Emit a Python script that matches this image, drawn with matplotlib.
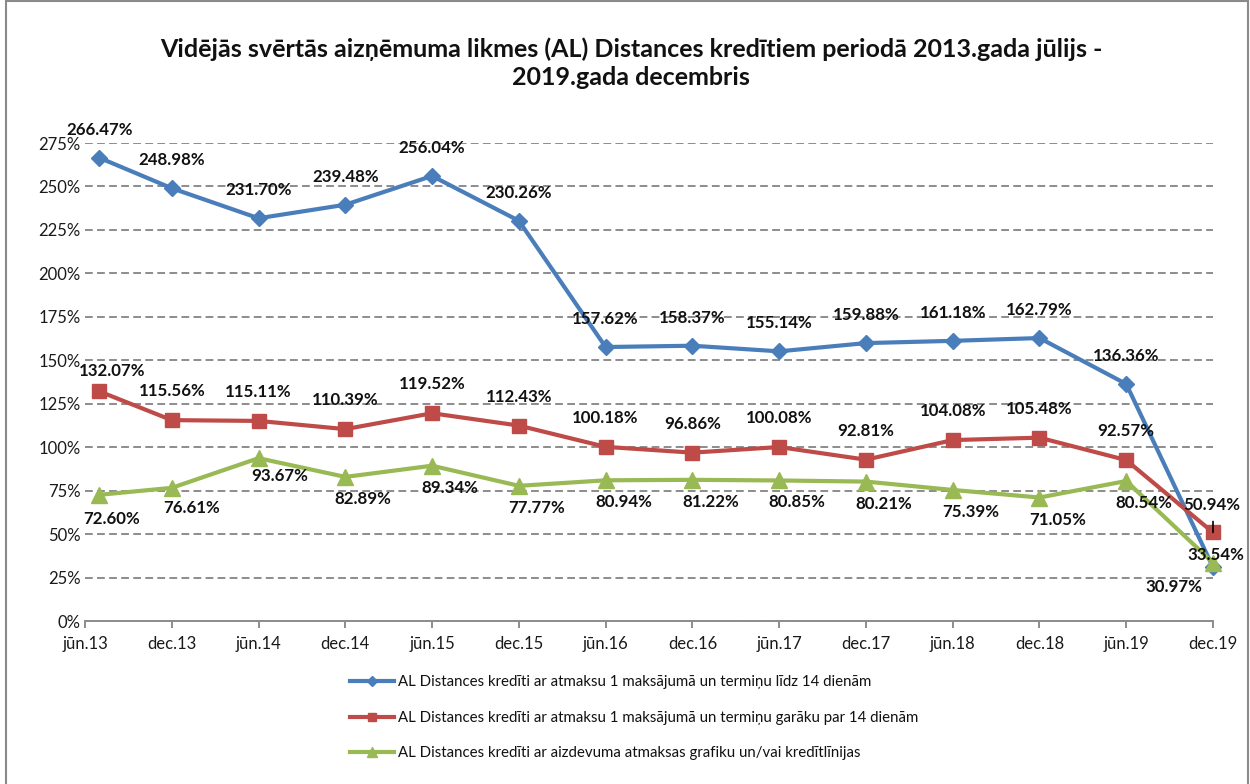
import matplotlib
matplotlib.use('Agg')
import matplotlib.pyplot as plt
from matplotlib.patches import Rectangle
import numpy as np

# ---- data ----
periods = ['2013-07', '2013-12', '2014-06', '2014-12', '2015-06', '2015-12', '2016-06',
           '2016-12', '2017-06', '2017-12', '2018-06', '2018-12', '2019-06', '2019-12']
tick_labels = ['jūn.13', 'dec.13', 'jūn.14', 'dec.14', 'jūn.15', 'dec.15', 'jūn.16',
               'dec.16', 'jūn.17', 'dec.17', 'jūn.18', 'dec.18', 'jūn.19', 'dec.19']
short_term = [266.47, 248.98, 231.70, 239.48, 256.04, 230.26, 157.62, 158.37, 155.14,
              159.88, 161.18, 162.79, 136.36, 30.97]
longer_term = [132.07, 115.56, 115.11, 110.39, 119.52, 112.43, 100.18, 96.86, 100.08,
               92.81, 104.08, 105.48, 92.57, 50.94]
schedule = [72.60, 76.61, 93.67, 82.89, 89.34, 77.77, 80.94, 81.22, 80.85, 80.21,
            75.39, 71.05, 80.54, 33.54]
series_names = [
    'AL Distances kredīti ar atmaksu 1 maksājumā un termiņu līdz 14 dienām',
    'AL Distances kredīti ar atmaksu 1 maksājumā un termiņu garāku par 14 dienām',
    'AL Distances kredīti ar aizdevuma atmaksas grafiku un/vai kredītlīnijas',
]
title = 'Vidējās svērtās aizņēmuma likmes (AL) Distances kredītiem periodā 2013.gada jūlijs -\n2019.gada decembris'

# ---- helpers ----
def month_index(p):
    y, m = p.split('-')
    return (int(y) - 2013) * 12 + (int(m) - 6)

x = np.array([month_index(p) for p in periods])
ticks = np.arange(0, 6 * len(tick_labels), 6)

FONT = ['Lato', 'DejaVu Sans']
plt.rcParams['font.family'] = FONT

W, H = 1250, 784
fig = plt.figure(figsize=(W / 100, H / 100), dpi=100)
fig.patch.set_facecolor('white')
fig.add_artist(Rectangle((6 / W, -0.01), (1248 - 6) / W, 1.0 - 0.5 / H + 0.01,
                         transform=fig.transFigure, fill=False,
                         edgecolor='#8a8a8a', linewidth=1.5))

ax = fig.add_axes([85 / W, 1 - 621 / H, (1213 - 85) / W, (621 - 143) / H])
ax.set_xlim(0, ticks[-1])
ax.set_ylim(0, 275)

grid_c = '#8c8c8c'
ax.set_yticks(np.arange(0, 276, 25))
ax.set_yticklabels([f'{v}%' for v in range(0, 276, 25)])
ax.yaxis.grid(True, color=grid_c, linestyle=(0, (4, 2.2)), linewidth=1.4)
ax.set_axisbelow(True)
ax.set_xticks(ticks)
ax.set_xticklabels(tick_labels)
for s in ['left', 'right', 'top']:
    ax.spines[s].set_visible(False)
ax.spines['bottom'].set_color(grid_c)
ax.spines['bottom'].set_linewidth(1.4)
ax.tick_params(axis='y', length=0, pad=3, labelsize=12, labelcolor='#1a1a1a')
ax.tick_params(axis='x', length=5, width=1.4, color=grid_c, direction='out', pad=6,
               labelsize=12, labelcolor='#1a1a1a')

colors = ['#4a7ebb', '#be4b48', '#98b954']
markers = ['D', 's', '^']
msizes = [8, 10, 11]
all_vals = [short_term, longer_term, schedule]

lines = []
for vals, c, m, ms, name in zip(all_vals, colors, markers, msizes, series_names):
    ln, = ax.plot(x, vals, color=c, linewidth=3, marker=m, markersize=ms,
                  markeredgecolor=c, label=name, clip_on=False, zorder=3)
    lines.append(ln)

# label offsets (pixels) per series: default + specific overrides
def offsets(default, overrides):
    out = [default] * len(periods)
    for i, o in overrides.items():
        out[i] = o
    return out

label_offsets = [
    offsets((0, 28), {13: (-39, -20)}),
    offsets((0, 29), {0: (13, 20), 13: (-1, 27)}),
    offsets((18, -22), {0: (12, -24), 1: (20, -20), 2: (21, -18), 13: (3, 8)}),
]

for vals, offs in zip(all_vals, label_offsets):
    for xi, v, (dx, dy) in zip(x, vals, offs):
        ax.annotate(f'{v:.2f}%', (xi, v), xytext=(dx, dy), textcoords='offset pixels',
                    ha='center', va='center', fontsize=12.2, fontweight='bold',
                    color='#111111', annotation_clip=False, zorder=5)

# leader line for the last red label
ax.annotate('', xy=(x[-1], longer_term[-1]), xytext=(0, 11), textcoords='offset pixels',
            arrowprops=dict(arrowstyle='-', color='black', lw=1.2, shrinkA=0, shrinkB=0),
            annotation_clip=False)

fig.text(631 / W, 1 - 63 / H, title, ha='center', va='center', fontsize=18,
         fontweight='bold', color='#111111', linespacing=1.27)

leg = fig.legend(handles=lines, loc='upper left', bbox_to_anchor=(350 / W, 1 - 675 / H),
                 frameon=False, fontsize=10.8, handlelength=2.9, handletextpad=0.3,
                 labelspacing=1.45, markerscale=0.6, borderaxespad=0, borderpad=0)
for t in leg.get_texts():
    t.set_color('#111111')

fig.savefig('out.png', dpi=100, facecolor='white')
